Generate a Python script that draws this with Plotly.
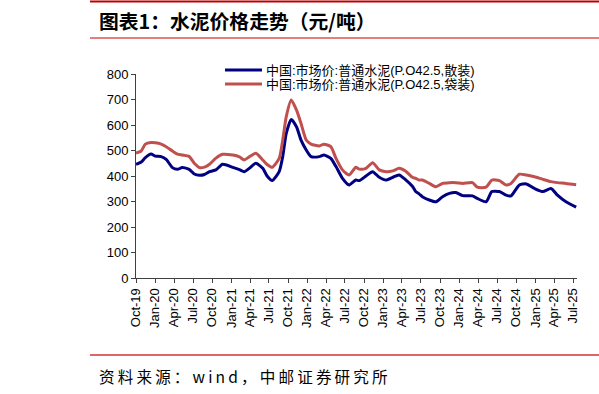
import plotly.graph_objects as go

dates = [
    "2019-10-01", "2019-10-26", "2019-11-15", "2019-12-12", "2020-01-02", "2020-01-30",
    "2020-02-23", "2020-03-24", "2020-04-17", "2020-05-10", "2020-06-13", "2020-07-07",
    "2020-08-01", "2020-08-25", "2020-09-18", "2020-10-19", "2020-11-20", "2021-01-08",
    "2021-02-09", "2021-03-04", "2021-03-28", "2021-04-29", "2021-06-01", "2021-06-22",
    "2021-07-16", "2021-08-19", "2021-09-05", "2021-09-22", "2021-10-16", "2021-11-10",
    "2021-12-02", "2021-12-27", "2022-01-19", "2022-02-28", "2022-03-22", "2022-04-24",
    "2022-05-19", "2022-06-19", "2022-07-21", "2022-08-22", "2022-09-08", "2022-10-10",
    "2022-11-11", "2022-12-13", "2023-01-15", "2023-02-16", "2023-03-18", "2023-04-19",
    "2023-05-21", "2023-06-06", "2023-06-22", "2023-07-08", "2023-08-10", "2023-09-12",
    "2023-10-13", "2023-11-15", "2023-12-16", "2024-01-18", "2024-03-05", "2024-03-28",
    "2024-05-09", "2024-06-06", "2024-07-12", "2024-08-13", "2024-09-06", "2024-10-16",
    "2024-11-18", "2024-12-28", "2025-02-06", "2025-03-17", "2025-04-17", "2025-05-28",
    "2025-07-16",
]

bulk = [
    446, 455, 472, 486, 478, 476,
    465, 433, 426, 433, 426, 408,
    403, 406, 417, 424, 446, 434,
    425, 417, 430, 450, 430, 400,
    382, 417, 476, 567, 622, 593,
    541, 502, 476, 476, 482, 469,
    437, 391, 365, 384, 382, 400,
    417, 395, 384, 395, 404, 385,
    360, 339, 330, 319, 306, 299,
    319, 332, 335, 323, 322, 312,
    299, 339, 339, 325, 322, 365,
    369, 351, 339, 351, 325, 299,
    278,
]

bagged = [
    490, 498, 525, 531, 530, 525,
    515, 498, 486, 482, 476, 450,
    433, 435, 446, 470, 485, 482,
    475, 463, 475, 489, 463, 445,
    434, 469, 541, 633, 698, 659,
    606, 541, 525, 518, 525, 515,
    469, 424, 404, 434, 427, 430,
    452, 424, 417, 420, 430, 419,
    395, 391, 384, 384, 371, 358,
    371, 374, 374, 371, 374, 356,
    356, 384, 382, 365, 371, 407,
    404, 397, 387, 378, 374, 371,
    366,
]

series_names = [
    "中国:市场价:普通水泥(P.O42.5,散装)",
    "中国:市场价:普通水泥(P.O42.5,袋装)",
]
series_colors = ["#000080", "#C0504D"]

# plot area in pixels
L, R, T, B = 136, 577, 74, 278
PW, PH = R - L, B - T


def px(x):
    return (x - L) / PW


def py(y):
    return (B - y) / PH


fig = go.Figure()
for vals, name, col in zip([bulk, bagged], series_names, series_colors):
    fig.add_trace(go.Scatter(x=dates, y=vals, mode="lines", name=name, showlegend=False,
                             line=dict(color=col, width=3, shape="spline", smoothing=0.6)))

axis_font = dict(family="Liberation Sans, Arial, sans-serif", size=13, color="#000000")
cjk = "Noto Sans CJK SC, sans-serif"

shapes = [
    dict(type="line", xref="paper", yref="paper", x0=px(90), x1=px(599),
         y0=py(1.5), y1=py(1.5), line=dict(color="#C00000", width=2)),
    dict(type="line", xref="paper", yref="paper", x0=px(90), x1=px(599),
         y0=py(38), y1=py(38), line=dict(color="#C00000", width=1)),
    dict(type="line", xref="paper", yref="paper", x0=px(90), x1=px(599),
         y0=py(355), y1=py(355), line=dict(color="#E06666", width=2)),
]
annotations = [
    dict(text="<b>图表1：水泥价格走势（元/吨）</b>", xref="paper", yref="paper",
         x=px(97), y=py(20), xanchor="left", yanchor="middle", showarrow=False,
         font=dict(family=cjk, size=19.8, color="#000000")),
    dict(text="\u2009".join("资料来源：wind，中邮证券研究所"), xref="paper", yref="paper",
         x=px(97), y=py(376), xanchor="left", yanchor="middle", showarrow=False,
         font=dict(family=cjk, size=15.6, color="#000000")),
]
# legend (drawn manually to match compact spacing)
for i, (name, col) in enumerate(zip(series_names, series_colors)):
    yy = 70 + 14 * i
    shapes.append(dict(type="line", xref="paper", yref="paper", x0=px(225), x1=px(262),
                       y0=py(yy), y1=py(yy), line=dict(color=col, width=3)))
    annotations.append(dict(text=name, xref="paper", yref="paper", x=px(264), y=py(yy),
                            xanchor="left", yanchor="middle", showarrow=False,
                            font=dict(family="Liberation Sans, Noto Sans CJK SC, sans-serif",
                                      size=13, color="#000000")))

fig.update_layout(
    width=599, height=394,
    margin=dict(l=L, r=599 - R, t=T, b=394 - B, autoexpand=False),
    paper_bgcolor="white", plot_bgcolor="white",
    showlegend=False,
    xaxis=dict(
        type="date", range=["2019-10-01", "2025-07-20"],
        tick0="2019-10-01", dtick="M3", tickformat="%b-%y", tickangle=-90,
        showgrid=False, zeroline=False, showline=True, linecolor="#404040", linewidth=1,
        ticks="outside", ticklen=4, tickcolor="#404040", tickfont=axis_font,
    ),
    yaxis=dict(
        range=[0, 800], dtick=100, showgrid=False, zeroline=False,
        showline=True, linecolor="#404040", linewidth=1,
        ticks="outside", ticklen=4, tickcolor="#404040", tickfont=axis_font,
    ),
    shapes=shapes,
    annotations=annotations,
)

fig.write_html("out.html", config={"displayModeBar": False},
               post_script="document.body.style.margin='0';")
